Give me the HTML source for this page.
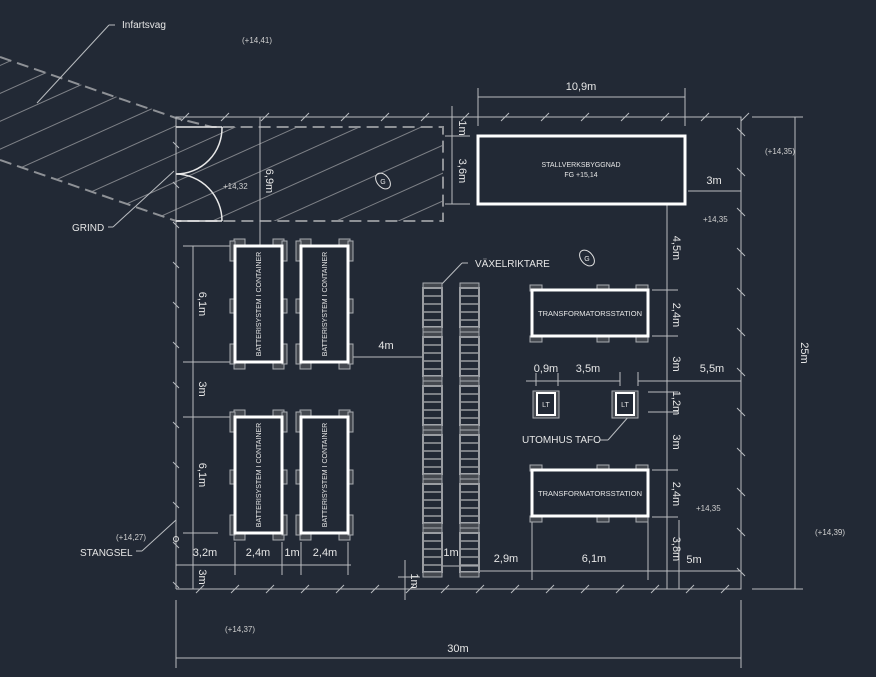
<!DOCTYPE html>
<html><head><meta charset="utf-8"><style>
html,body{margin:0;padding:0;background:#222935;}
svg{display:block}
text{font-family:"Liberation Sans",sans-serif;fill:#e6e6e6}
</style></head><body>
<svg id="s" width="876" height="677" viewBox="0 0 876 677" xmlns="http://www.w3.org/2000/svg">
<rect width="876" height="677" fill="#222935"/>
<defs>
<clipPath id="road"><polygon points="0,57 176,117 176,127 443,127 443,221 176,221 0,160"/></clipPath>
</defs>
<g id="hatch" clip-path="url(#road)" stroke="#7e8187" stroke-width="1"></g>
<g fill="none" stroke="#8e9196" stroke-width="2" stroke-dasharray="12,6">
<polyline points="0,57 176,118 212,127 443,127 443,221 176,221"/>
<polyline points="0,160 176,221"/>
</g>
<g id="g" stroke="#b9bcc0" stroke-width="1" fill="none">
<polyline points="176,589 176,117 741,117 741,589 176,589"/>
<g stroke="#e8e8e8" stroke-width="1.5">
<line x1="176" y1="127" x2="222" y2="127"/><path d="M222,127 A46,46 0 0 1 176,174"/>
<line x1="176" y1="221" x2="222" y2="221"/><path d="M176,174 A47,47 0 0 1 222,221"/>
</g>
<line x1="37" y1="103" x2="109" y2="25"/><line x1="109" y1="25" x2="115" y2="25"/>
<line x1="113" y1="227" x2="174" y2="171"/><line x1="108" y1="227" x2="113" y2="227"/>
<line x1="142" y1="551" x2="176" y2="520"/><line x1="136" y1="551" x2="142" y2="551"/>
<line x1="440" y1="286" x2="462" y2="263"/><line x1="462" y1="263" x2="468" y2="263"/>
<line x1="608" y1="440" x2="630" y2="415"/><line x1="600" y1="440" x2="608" y2="440"/>
<line x1="260" y1="117" x2="260" y2="246"/>
<line x1="452" y1="106" x2="452" y2="204"/><line x1="445" y1="136" x2="470" y2="136"/><line x1="445" y1="204" x2="470" y2="204"/>
<line x1="478" y1="97" x2="685" y2="97"/><line x1="478" y1="88" x2="478" y2="126"/><line x1="685" y1="88" x2="685" y2="126"/>
<line x1="688" y1="191" x2="741" y2="191"/>
<line x1="752" y1="117" x2="803" y2="117"/><line x1="752" y1="589" x2="803" y2="589"/><line x1="795" y1="117" x2="795" y2="589"/>
<line x1="176" y1="600" x2="176" y2="668"/><line x1="741" y1="600" x2="741" y2="668"/><line x1="176" y1="658" x2="741" y2="658"/>
<line x1="193" y1="246" x2="193" y2="589"/>
<line x1="183" y1="246" x2="232" y2="246"/><line x1="183" y1="362" x2="232" y2="362"/><line x1="183" y1="417" x2="232" y2="417"/><line x1="183" y1="533" x2="218" y2="533"/>
<line x1="176" y1="565" x2="351" y2="565"/>
<line x1="235" y1="542" x2="235" y2="575"/><line x1="282" y1="542" x2="282" y2="575"/><line x1="301" y1="542" x2="301" y2="575"/><line x1="348" y1="542" x2="348" y2="575"/>
<line x1="348" y1="357" x2="423" y2="357"/>
<line x1="667" y1="204" x2="667" y2="589"/>
<line x1="652" y1="290" x2="678" y2="290"/><line x1="652" y1="336" x2="678" y2="336"/>
<line x1="648" y1="392" x2="678" y2="392"/><line x1="648" y1="412" x2="678" y2="412"/>
<line x1="652" y1="470" x2="678" y2="470"/><line x1="652" y1="517" x2="678" y2="517"/>
<line x1="526" y1="381" x2="620" y2="381"/><line x1="638" y1="381" x2="741" y2="381"/>
<line x1="536" y1="373" x2="536" y2="386"/><line x1="558" y1="373" x2="558" y2="386"/><line x1="620" y1="372" x2="620" y2="386"/><line x1="638" y1="372" x2="638" y2="386"/>
<line x1="479" y1="571" x2="741" y2="571"/>
<line x1="532" y1="520" x2="532" y2="580"/><line x1="648" y1="520" x2="648" y2="580"/><line x1="679" y1="520" x2="679" y2="589"/>
<line x1="441" y1="566" x2="479" y2="566"/>
<line x1="405" y1="560" x2="405" y2="600"/><line x1="398" y1="577" x2="420" y2="577"/>
</g>
<rect x="478" y="136" width="207" height="68" fill="none" stroke="#fff" stroke-width="3"/>
<text x="581" y="167" font-size="7" text-anchor="middle">STALLVERKSBYGGNAD</text>
<text x="581" y="177" font-size="7" text-anchor="middle">FG +15,14</text>
<g id="c"></g>
<g font-size="10">
<text x="122" y="28">Infartsvag</text>
<text x="72" y="231">GRIND</text>
<text x="80" y="556">STANGSEL</text>
<text x="475" y="267">VÄXELRIKTARE</text>
<text x="522" y="443">UTOMHUS TAFO</text>
</g>
<g font-size="8">
<text x="242" y="43" style="fill:#cfcfcf">(+14,41)</text>
<text x="223" y="189" style="fill:#cfcfcf">+14,32</text>
<text x="765" y="154" style="fill:#cfcfcf">(+14,35)</text>
<text x="703" y="222" style="fill:#cfcfcf">+14,35</text>
<text x="696" y="511" style="fill:#cfcfcf">+14,35</text>
<text x="116" y="540" style="fill:#cfcfcf">(+14,27)</text>
<text x="815" y="535" style="fill:#cfcfcf">(+14,39)</text>
<text x="225" y="632" style="fill:#cfcfcf">(+14,37)</text>
</g>
<g font-size="11">
<text x="581" y="90" text-anchor="middle">10,9m</text>
<text x="714" y="184" text-anchor="middle">3m</text>
<text x="386" y="349" text-anchor="middle">4m</text>
<text x="546" y="372" text-anchor="middle">0,9m</text>
<text x="588" y="372" text-anchor="middle">3,5m</text>
<text x="712" y="372" text-anchor="middle">5,5m</text>
<text x="205" y="556" text-anchor="middle">3,2m</text>
<text x="258" y="556" text-anchor="middle">2,4m</text>
<text x="292" y="556" text-anchor="middle">1m</text>
<text x="325" y="556" text-anchor="middle">2,4m</text>
<text x="451" y="556" text-anchor="middle">1m</text>
<text x="506" y="562" text-anchor="middle">2,9m</text>
<text x="594" y="562" text-anchor="middle">6,1m</text>
<text x="694" y="563" text-anchor="middle">5m</text>
<text x="458" y="652" text-anchor="middle">30m</text>
</g>
<g font-size="11">
<text transform="translate(266,181) rotate(90)" text-anchor="middle">6,9m</text>
<text transform="translate(459,128) rotate(90)" text-anchor="middle">1m</text>
<text transform="translate(459,171) rotate(90)" text-anchor="middle">3,6m</text>
<text transform="translate(199,304) rotate(90)" text-anchor="middle">6,1m</text>
<text transform="translate(199,389) rotate(90)" text-anchor="middle">3m</text>
<text transform="translate(199,475) rotate(90)" text-anchor="middle">6,1m</text>
<text transform="translate(199,577) rotate(90)" text-anchor="middle">3m</text>
<text transform="translate(673,248) rotate(90)" text-anchor="middle">4,5m</text>
<text transform="translate(673,315) rotate(90)" text-anchor="middle">2,4m</text>
<text transform="translate(673,364) rotate(90)" text-anchor="middle">3m</text>
<text transform="translate(673,403) rotate(90)" text-anchor="middle">1,2m</text>
<text transform="translate(673,442) rotate(90)" text-anchor="middle">3m</text>
<text transform="translate(673,494) rotate(90)" text-anchor="middle">2,4m</text>
<text transform="translate(673,549) rotate(90)" text-anchor="middle">3,8m</text>
<text transform="translate(411,581) rotate(90)" text-anchor="middle">1m</text>
<text transform="translate(801,353) rotate(90)" text-anchor="middle">25m</text>
</g>
<g fill="none" stroke="#e0e0e0" stroke-width="1">
<ellipse cx="383" cy="181" rx="6" ry="9" transform="rotate(-40 383 181)"/>
<ellipse cx="587" cy="258" rx="6" ry="9" transform="rotate(-40 587 258)"/>
</g>
<text x="383" y="184" font-size="7" text-anchor="middle">G</text>
<text x="587" y="261" font-size="7" text-anchor="middle">G</text>
</svg>
<script>
var NS="http://www.w3.org/2000/svg";
function el(p,t,a){var e=document.createElementNS(NS,t);for(var k in a)e.setAttribute(k,a[k]);p.appendChild(e);return e;}
var h=document.getElementById('hatch'),g=document.getElementById('g'),c=document.getElementById('c');
for(var i=-8;i<14;i++){var x0=i*62;el(h,'line',{x1:x0-100,y1:250,x2:x0+500,y2:-20});}
for(var x=185;x<=745;x+=40)el(g,'line',{x1:x-4,y1:121,x2:x+4,y2:113});
for(var x=200;x<=740;x+=35)el(g,'line',{x1:x-4,y1:593,x2:x+4,y2:585});
for(var y=132;y<589;y+=40){el(g,'line',{x1:737,y1:y-4,x2:745,y2:y+4});}
for(var y=145;y<589;y+=40){el(g,'line',{x1:173,y1:y-3,x2:179,y2:y+3});}
function pad(x,y,w,hh){el(c,'rect',{x:x,y:y,width:w,height:hh,fill:'#44484f',stroke:'#a8abb0','stroke-width':1});}
[[235,246],[301,246],[235,417],[301,417]].forEach(function(p){
 var x=p[0],y=p[1];
 pad(x-1,y-7,11,7);pad(x+38,y-7,11,7);pad(x-1,y+116,11,7);pad(x+38,y+116,11,7);
 pad(x-5,y-5,5,20);pad(x+47,y-5,5,20);pad(x-5,y+53,5,14);pad(x+47,y+53,5,14);pad(x-5,y+98,5,20);pad(x+47,y+98,5,20);
 el(c,'rect',{x:x,y:y,width:47,height:116,fill:'#222935',stroke:'#fff','stroke-width':3});
 var t=el(c,'text',{transform:'translate('+(x+26)+','+(y+58)+') rotate(-90)','font-size':'7','text-anchor':'middle'});t.textContent='BATTERISYSTEM I CONTAINER';
});
[423,460].forEach(function(x){
 var y=283;
 for(var m=0;m<6;m++){
  pad(x,y,19,5);y+=5;
  el(c,'rect',{x:x,y:y,width:19,height:39,fill:'none',stroke:'#9a9da2','stroke-width':2});
  for(var r=1;r<5;r++)el(c,'line',{x1:x,y1:y+r*8,x2:x+19,y2:y+r*8,stroke:'#9a9da2','stroke-width':1.5});
  y+=39;pad(x,y,19,5);y+=5;
 }
});
[290,470].forEach(function(y){
 [532,599,638].forEach(function(x){pad(x-2,y-5,12,6);pad(x-2,y+46,12,6);});
 el(c,'rect',{x:532,y:y,width:116,height:46,fill:'#222935',stroke:'#fff','stroke-width':3});
 var t=el(c,'text',{x:590,y:y+26,'font-size':'7.5','text-anchor':'middle'});t.textContent='TRANSFORMATORSSTATION';
});
[535,614].forEach(function(x){
 pad(x-2,391,26,27);
 el(c,'rect',{x:x+2,y:393,width:18,height:22,fill:'#222935',stroke:'#fff','stroke-width':2});
 var t=el(c,'text',{x:x+11,y:407,'font-size':'7','text-anchor':'middle'});t.textContent='LT';
});
el(c,'circle',{cx:176,cy:539,r:2.5,fill:'none',stroke:'#ddd'});
</script>
</body></html>
